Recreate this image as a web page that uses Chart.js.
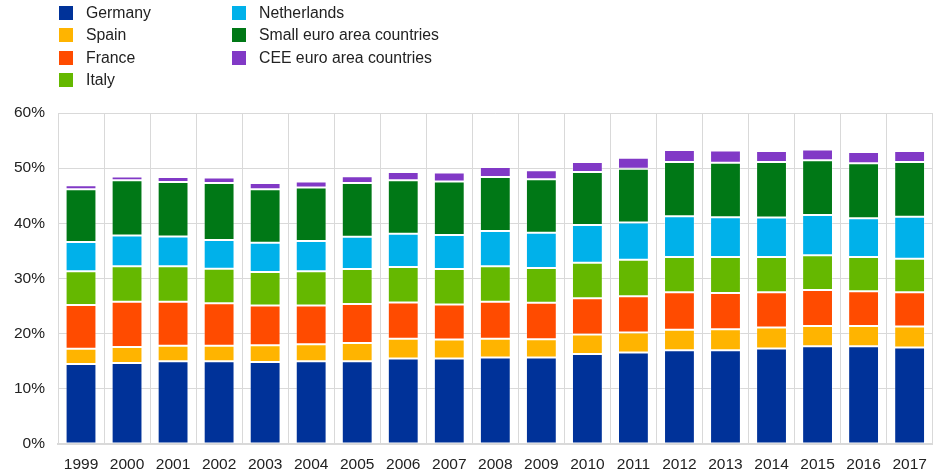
<!DOCTYPE html>
<html>
<head>
<meta charset="utf-8">
<script src="https://cdn.jsdelivr.net/npm/chart.js@4/dist/chart.umd.min.js"></script>
<style>
    html, body { margin: 0; padding: 0; background: #fff; }
    #wrap { position: relative; width: 938px; height: 475px; }
    #chart { position: absolute; left: 0; top: 0; }
    .legend { position: absolute; left: 0; top: 0; font: 15.8px "Liberation Sans", Arial, sans-serif; color: #222; }
    .legend .item { position: absolute; white-space: nowrap; height: 14px; line-height: 14px; }
    .legend .box { position: absolute; left: 0; top: 0; width: 14px; height: 14px; }
    .legend .label { position: absolute; left: 27px; top: 0; }
</style>
</head>
<body>
<div id="wrap">
    <canvas id="chart" width="938" height="475"></canvas>
    <div class="legend" id="legend"></div>
</div>
<script>
const years = ['1999', '2000', '2001', '2002', '2003', '2004', '2005', '2006', '2007', '2008',
    '2009', '2010', '2011', '2012', '2013', '2014', '2015', '2016', '2017'];

// shares in percent
const germany = [14.5, 14.7, 15.0, 15.0, 14.85, 15.0, 15.0, 15.5, 15.5, 15.7,
    15.7, 16.3, 16.6, 17.0, 17.0, 17.3, 17.7, 17.7, 17.5];
const spain = [2.75, 2.9, 2.8, 2.8, 3.05, 3.1, 3.3, 3.6, 3.45, 3.4,
    3.3, 3.55, 3.6, 3.7, 3.8, 3.8, 3.7, 3.7, 3.8];
const france = [7.95, 8.2, 8.0, 7.7, 7.2, 7.0, 7.1, 6.55, 6.35, 6.7,
    6.6, 6.55, 6.6, 6.8, 6.55, 6.4, 6.5, 6.3, 6.2];
const italy = [6.1, 6.4, 6.4, 6.25, 6.1, 6.2, 6.3, 6.45, 6.4, 6.4,
    6.3, 6.45, 6.6, 6.4, 6.55, 6.4, 6.3, 6.2, 6.1];
const netherlands = [5.3, 5.6, 5.4, 5.25, 5.3, 5.5, 5.85, 6.0, 6.2, 6.4,
    6.4, 6.85, 6.75, 7.4, 7.2, 7.15, 7.3, 7.0, 7.6];
const smallEuro = [9.6, 10.0, 9.9, 10.3, 9.7, 9.7, 9.75, 9.7, 9.7, 9.8,
    9.7, 9.6, 9.75, 9.8, 9.9, 10.05, 9.95, 10.0, 9.9];
const ceeEuro = [0.7, 0.7, 0.9, 1.0, 1.1, 1.1, 1.25, 1.5, 1.6, 1.8,
    1.6, 1.8, 2.0, 2.2, 2.2, 2.0, 1.95, 2.05, 2.0];

const seriesNames = ['Germany', 'Spain', 'France', 'Italy', 'Netherlands',
    'Small euro area countries', 'CEE euro area countries'];
const seriesColors = ['#003299', '#FFB400', '#FF4B00', '#65B800', '#00B1EA', '#007816', '#8139C6'];
const seriesData = [germany, spain, france, italy, netherlands, smallEuro, ceeEuro];

const FONT = '"Liberation Sans", Arial, sans-serif';

// legend: two columns, four rows max
const legendEl = document.getElementById('legend');
seriesNames.forEach((name, i) => {
    const col = i < 4 ? 0 : 1;
    const row = i < 4 ? i : i - 4;
    const item = document.createElement('div');
    item.className = 'item';
    item.style.left = (col === 0 ? 59 : 232) + 'px';
    item.style.top = (6 + row * 22.3) + 'px';
    item.innerHTML = `<span class="box" style="background:${seriesColors[i]}"></span><span class="label">${name}</span>`;
    legendEl.appendChild(item);
});

new Chart(document.getElementById('chart'), {
    type: 'bar',
    data: {
        labels: years,
        datasets: seriesData.map((d, i) => ({
            label: seriesNames[i],
            data: d,
            backgroundColor: seriesColors[i],
            borderColor: 'rgba(255,255,255,0.3)',
            borderWidth: 1,
            borderSkipped: false,
            barPercentage: 0.67,
            categoryPercentage: 1.0,
        })),
    },
    options: {
        responsive: false,
        animation: false,
        layout: { padding: { top: 113, right: 5, left: 0, bottom: 0 } },
        plugins: {
            legend: { display: false },
            tooltip: { enabled: false },
        },
        scales: {
            x: {
                stacked: true,
                grid: { color: '#d9d9d9', lineWidth: 1, drawTicks: false, offset: true },
                border: { color: '#d9d9d9', width: 2 },
                ticks: { color: '#222', font: { family: FONT, size: 15.5 }, padding: 11, maxRotation: 0 },
                afterFit: scale => { scale.height = 31; },
            },
            y: {
                stacked: true,
                min: 0,
                max: 60,
                grid: { color: '#d9d9d9', lineWidth: 1, drawTicks: false },
                border: { color: '#d9d9d9', width: 1 },
                ticks: {
                    stepSize: 10,
                    color: '#222',
                    font: { family: FONT, size: 15.5 },
                    padding: 13,
                    callback: v => v + '%',
                },
                afterFit: scale => { scale.width = 58; },
            },
        },
    },
});
</script>
</body>
</html>
